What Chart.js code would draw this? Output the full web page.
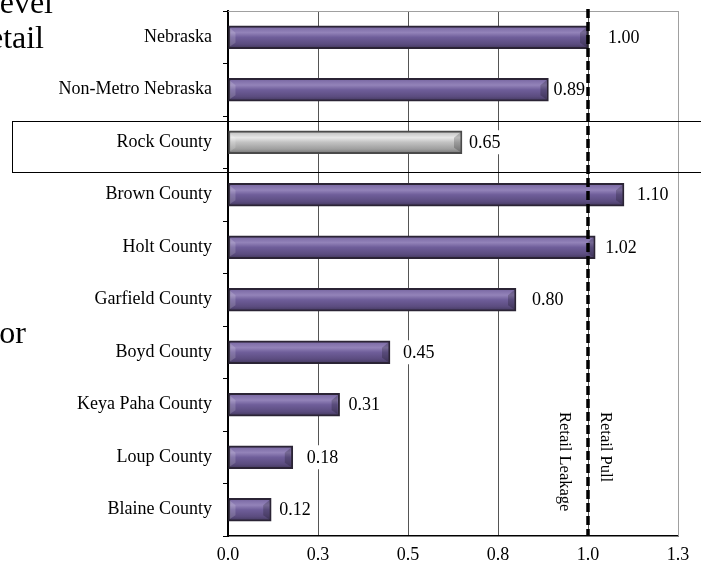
<!DOCTYPE html>
<html>
<head>
<meta charset="utf-8">
<script src="https://cdn.jsdelivr.net/npm/chart.js@4.4.1/dist/chart.umd.min.js"></script>
<style>
  html, body { margin: 0; padding: 0; background: #fff; }
  canvas { display: block; }
</style>
</head>
<body>
<canvas id="pull" width="701" height="564"></canvas>
<script>
// Retail pull factors, horizontal bars. Rock County highlighted in grey,
// dashed line at 1.0 separates leakage from pull.

const CATEGORIES = [
  'Nebraska', 'Non-Metro Nebraska', 'Rock County', 'Brown County', 'Holt County',
  'Garfield County', 'Boyd County', 'Keya Paha County', 'Loup County', 'Blaine County',
];
const PULL_FACTORS = [1.00, 0.89, 0.65, 1.10, 1.02, 0.80, 0.45, 0.31, 0.18, 0.12];
const VALUE_LABELS = ['1.00', '0.89', '0.65', '1.10', '1.02', '0.80', '0.45', '0.31', '0.18', '0.12'];
const TICK_LABELS = ['0.0', '0.3', '0.5', '0.8', '1.0', '1.3'];
const HIGHLIGHT = 'Rock County';
const BREAK_EVEN = 1.0;

// style: gap between bar end and its label (px), as placed in the original
const LABEL_GAP = [20, 5, 7, 13, 10, 16, 13, 9, 14, 8];

const SERIF = "'Liberation Serif', 'Times New Roman', serif";

const PURPLE_STOPS = [
  [0, '#4a3e64'], [0.1, '#7f6ea8'], [0.3, '#9383b9'], [0.5, '#6f5e9a'],
  [0.8, '#5b4c7f'], [1, '#40365a'],
];
const GREY_STOPS = [
  [0, '#7c7c7c'], [0.1, '#c8c8c8'], [0.3, '#e8e8e8'], [0.5, '#c2c2c2'],
  [0.8, '#9e9e9e'], [1, '#707070'],
];

function barFill(ctx) {
  const chart = ctx.chart;
  const isGrey = CATEGORIES[ctx.dataIndex] === HIGHLIGHT;
  if (!chart.chartArea || !chart.scales.y) return isGrey ? '#c0c0c0' : '#6e5e98';
  const yc = chart.scales.y.getPixelForValue(ctx.dataIndex);
  const g = chart.ctx.createLinearGradient(0, yc - 11.5, 0, yc + 11.5);
  (isGrey ? GREY_STOPS : PURPLE_STOPS).forEach(([o, c]) => g.addColorStop(o, c));
  return g;
}

// end caps that give the bars their bevelled look
const bevelPlugin = {
  id: 'bevel',
  afterDatasetsDraw(chart) {
    const c = chart.ctx;
    chart.getDatasetMeta(0).data.forEach(bar => {
      const top = bar.y - bar.height / 2 + 2;
      const bot = bar.y + bar.height / 2 - 2;
      const l = bar.base + 1, r = bar.x - 2;
      c.save();
      c.fillStyle = 'rgba(255,255,255,0.16)';
      c.beginPath();
      c.moveTo(l, top); c.lineTo(l + 6, top + 5); c.lineTo(l + 6, bot - 4); c.lineTo(l, bot);
      c.closePath(); c.fill();
      c.fillStyle = 'rgba(0,0,0,0.2)';
      c.beginPath();
      c.moveTo(r, top); c.lineTo(r - 6, top + 5); c.lineTo(r - 6, bot - 4); c.lineTo(r, bot);
      c.closePath(); c.fill();
      c.restore();
    });
  },
};

const overlayPlugin = {
  id: 'overlay',
  beforeDatasetsDraw(chart) {
    // plot frame: grey top and right edges
    const { ctx: c, chartArea: a } = chart;
    c.save();
    c.strokeStyle = '#a0a0a0';
    c.lineWidth = 1;
    c.beginPath();
    c.moveTo(a.left, a.top + 0.5); c.lineTo(a.right + 0.5, a.top + 0.5); c.lineTo(a.right + 0.5, a.bottom);
    c.stroke();
    c.restore();
  },
  afterDraw(chart) {
    const { ctx: c, chartArea: a, scales: { x, y } } = chart;
    c.save();

    // value labels on white boxes
    c.font = '18px ' + SERIF;
    c.textBaseline = 'middle';
    c.textAlign = 'left';
    PULL_FACTORS.forEach((v, i) => {
      const lx = x.getPixelForValue(v) + LABEL_GAP[i];
      const ly = y.getPixelForValue(i);
      const w = c.measureText(VALUE_LABELS[i]).width;
      c.fillStyle = '#fff';
      c.fillRect(lx - 1, ly - 12, w + 2, 24);
      c.fillStyle = '#000';
      c.fillText(VALUE_LABELS[i], lx, ly + 1);
    });

    // break-even dashed line
    const bx = x.getPixelForValue(BREAK_EVEN);
    c.strokeStyle = '#000';
    c.lineWidth = 3.5;
    c.setLineDash([9, 4]);
    c.beginPath();
    c.moveTo(bx, a.top - 2);
    c.lineTo(bx, a.bottom);
    c.stroke();
    c.setLineDash([]);

    // rotated side captions
    c.font = '16.5px ' + SERIF;
    c.fillStyle = '#000';
    c.textAlign = 'left';
    c.textBaseline = 'middle';
    [['Retail Leakage', bx - 24], ['Retail Pull', bx + 17]].forEach(([t, tx]) => {
      c.save();
      c.translate(tx, a.bottom - 124);
      c.rotate(Math.PI / 2);
      c.fillText(t, 0, 0);
      c.restore();
    });

    // highlight box round the county row
    const ry = y.getPixelForValue(CATEGORIES.indexOf(HIGHLIGHT));
    c.strokeStyle = '#000';
    c.lineWidth = 1;
    c.strokeRect(12.5, Math.round(ry - 21) + 0.5, chart.width + 10, 51);

    // bits of the surrounding page text, cut by the frame
    c.font = '32px ' + SERIF;
    c.textAlign = 'right';
    c.textBaseline = 'alphabetic';
    c.fillText('Level', 53, 13);
    c.fillText('Retail', 44, 48);
    c.fillText('for', 26, 343);

    c.restore();
  },
};

new Chart(document.getElementById('pull'), {
  type: 'bar',
  data: {
    labels: CATEGORIES,
    datasets: [{
      data: PULL_FACTORS,
      backgroundColor: barFill,
      borderColor: ctx => CATEGORIES[ctx.dataIndex] === HIGHLIGHT ? '#4a4a4a' : '#2b2435',
      borderWidth: 2,
      borderSkipped: false,
      barThickness: 23,
    }],
  },
  options: {
    indexAxis: 'y',
    responsive: false,
    animation: false,
    devicePixelRatio: 1,
    layout: { padding: { top: 11, right: 23, bottom: 0, left: 0 } },
    plugins: {
      legend: { display: false },
      tooltip: { enabled: false },
    },
    scales: {
      x: {
        type: 'linear',
        min: 0,
        max: 1.25,
        afterFit: s => { s.height = 28; s.paddingLeft = 0; s.paddingRight = 0; },
        ticks: {
          stepSize: 0.25,
          padding: 8,
          color: '#000',
          font: { family: SERIF, size: 18 },
          callback: (v, i) => TICK_LABELS[i],
        },
        grid: {
          color: c => (c.index === TICK_LABELS.length - 1 ? '#a0a0a0' : '#555'),
          lineWidth: 1,
          drawTicks: false,
        },
        border: { display: true, color: '#000', width: 1.5 },
      },
      y: {
        type: 'category',
        afterFit: s => { s.width = 228; s.paddingTop = 0; s.paddingBottom = 0; },
        ticks: {
          padding: 11,
          color: '#000',
          font: { family: SERIF, size: 18 },
        },
        grid: {
          offset: true,
          drawOnChartArea: false,
          tickLength: 5,
          tickColor: '#000',
        },
        border: { display: true, color: '#000', width: 2 },
      },
    },
  },
  plugins: [bevelPlugin, overlayPlugin],
});
</script>
</body>
</html>
